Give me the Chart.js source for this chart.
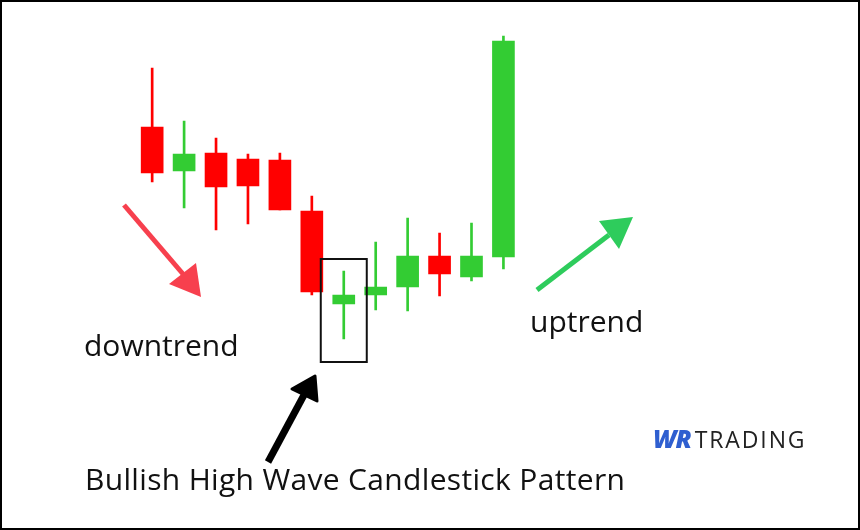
<!DOCTYPE html>
<html>
<head>
<meta charset="utf-8">
<script src="https://cdn.jsdelivr.net/npm/chart.js@4.4.1/dist/chart.umd.min.js"></script>
<style>
  html, body { margin:0; padding:0; background:#fff; }
  #wrap { position:relative; width:860px; height:530px; overflow:hidden; background:#fff; }
  canvas { position:absolute; left:0; top:0; }
  .lbl { position:absolute; font-family:"Open Sans", sans-serif; font-size:30px; line-height:30px; color:#111; white-space:nowrap; }
  #frame { position:absolute; left:0; top:0; width:860px; height:530px; box-sizing:border-box; border:2px solid #000; pointer-events:none; }
  #logo { position:absolute; left:653px; top:427px; font-family:"Open Sans", sans-serif; font-size:22px; line-height:22px; white-space:nowrap; }
  #logo .wr { font-size:25px; font-weight:800; font-style:italic; letter-spacing:-1px; color:#2f5fd0; margin-right:4px; }
  #logo .tr { font-size:23px; color:#222; font-weight:500; letter-spacing:1.9px; }
</style>
</head>
<body>
<div id="wrap">
  <canvas id="c" width="860" height="530"></canvas>
  <div class="lbl" style="left:84px; top:330px;">downtrend</div>
  <div class="lbl" style="left:530px; top:306px;">uptrend</div>
  <div class="lbl" style="left:85px; top:464px; letter-spacing:0.33px;">Bullish High Wave Candlestick Pattern</div>
  <div id="logo"><span class="wr">WR</span><span class="tr">TRADING</span></div>
  <div id="frame"></div>
</div>
<script>
const labels = ['1','2','3','4','5','6','7','8','9','10','11','12'];
const opens  = [186.5, 164.5, 173.5, 170.5, 170, 144.5,  98,  102.5, 106.5, 122,   111.5, 121.5];
const highs  = [216,   189.5, 181,   173,   173.5, 152,  114.5, 129,  141,   133.5, 138.5, 232];
const lows   = [159,   146,   135,   138,   145,  102.5,  80.5,  95,   94.5,  102,   109.5, 115.5];
const closes = [163.5, 173,   156.5, 157,   145,  104,   102.5, 106.5, 122,   113,   122,   229.5];
const patternIndex = 6;

const UP = '#33cc33', DOWN = '#ff0000';
const colors = opens.map((o, i) => closes[i] >= o ? UP : DOWN);
const bodies = opens.map((o, i) => [o, closes[i]]);
const wicks = lows.map((l, i) => [l, highs[i]]);

function arrow(ctx, x0, y0, bx, by, tri, color, w, rounded) {
  ctx.save();
  ctx.strokeStyle = color; ctx.fillStyle = color;
  ctx.lineWidth = w; ctx.lineCap = 'butt';
  ctx.beginPath(); ctx.moveTo(x0, y0); ctx.lineTo(bx, by); ctx.stroke();
  ctx.beginPath();
  ctx.moveTo(tri[0][0], tri[0][1]); ctx.lineTo(tri[1][0], tri[1][1]); ctx.lineTo(tri[2][0], tri[2][1]);
  ctx.closePath(); ctx.fill();
  if (rounded) { ctx.lineJoin = 'round'; ctx.lineWidth = 3; ctx.stroke(); }
  ctx.restore();
}

const annot = {
  id: 'annot',
  afterDatasetsDraw(chart) {
    const ctx = chart.ctx;
    const xs = chart.scales.x, ys = chart.scales.y;
    const cx = xs.getPixelForValue(patternIndex);
    const top = ys.getPixelForValue(highs[patternIndex]) - 12;
    const bot = ys.getPixelForValue(lows[patternIndex]) + 23;
    ctx.save();
    ctx.strokeStyle = '#111'; ctx.lineWidth = 2;
    ctx.strokeRect(cx - 23, top, 46, bot - top);
    ctx.restore();
    arrow(ctx, 124, 205, 183, 274, [[169,284],[196,263],[201,297]], '#f7404e', 5, false);
    arrow(ctx, 537, 290, 609, 235, [[599,221],[633,217],[619,249]], '#2ecc5c', 5, false);
    arrow(ctx, 268, 462, 304, 395, [[292,389],[315,376],[317,401]], '#000', 7, true);
  }
};

new Chart(document.getElementById('c'), {
  type: 'bar',
  data: {
    labels: labels,
    datasets: [
      { data: bodies, backgroundColor: colors, barThickness: 22, grouped: false, borderWidth: 0 },
      { data: wicks, backgroundColor: colors, barThickness: 2, grouped: false, borderWidth: 0 }
    ]
  },
  options: {
    responsive: false,
    animation: false,
    devicePixelRatio: 1,
    layout: { padding: { left: 136.2, right: 340.6, top: 0, bottom: 0 } },
    scales: {
      x: { display: false },
      y: { display: false, min: -15, max: 250 }
    },
    plugins: { legend: { display: false }, tooltip: { enabled: false } }
  },
  plugins: [annot]
});
</script>
</body>
</html>
